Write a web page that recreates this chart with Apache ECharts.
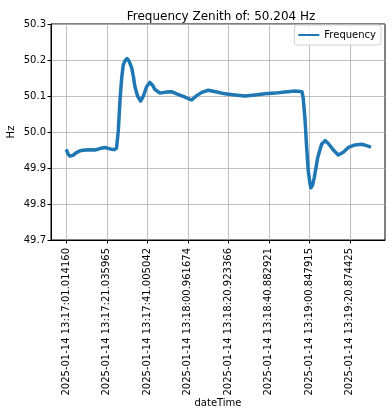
<!DOCTYPE html>
<html>
<head>
<meta charset="utf-8">
<script src="https://cdn.jsdelivr.net/npm/echarts@6/dist/echarts.min.js"></script>
<style>html,body{margin:0;padding:0;background:#fff}#c{width:392px;height:416px}</style>
</head>
<body>
<div id="c"></div>
<script>
// elapsed seconds from first tick
const times = [0,0.8,1.8,3.3,4.8,6.8,9.2,11.7,14.2,16.6,19.1,21.6,23.6,24.8,25.7,26.5,27.4,28.1,29.0,30.0,31.0,32.3,33.2,33.9,35.2,36.7,38.1,39.6,41.3,42.6,43.8,46.3,49.6,52.0,54.5,57.8,60.1,61.9,64.4,66.9,70.1,74.3,78.4,83.3,88.2,93.2,98.1,103.1,108.0,113.0,116.4,117.0,117.9,118.7,119.5,120.3,120.8,121.6,122.5,124.2,126.1,127.8,129.4,131.9,134.3,136.8,139.3,142.6,145.9,148.3,150.5];
// frequency in Hz
const freq = [49.952,49.940,49.933,49.935,49.942,49.948,49.950,49.951,49.950,49.954,49.957,49.953,49.951,49.955,50.004,50.087,50.152,50.185,50.198,50.204,50.197,50.178,50.152,50.126,50.100,50.086,50.100,50.125,50.138,50.130,50.118,50.108,50.111,50.112,50.106,50.099,50.093,50.089,50.101,50.110,50.116,50.111,50.106,50.103,50.100,50.103,50.106,50.108,50.111,50.114,50.112,50.095,50.035,49.958,49.893,49.858,49.845,49.852,49.874,49.930,49.966,49.976,49.968,49.950,49.936,49.944,49.957,49.964,49.966,49.962,49.958];
const tickPositions = [0,20,40,60,80,100,120,140];
const tickLabels = ['2025-01-14 13:17:01.014160','2025-01-14 13:17:21.035965','2025-01-14 13:17:41.005042','2025-01-14 13:18:00.961674','2025-01-14 13:18:20.923366','2025-01-14 13:18:40.882921','2025-01-14 13:19:00.847915','2025-01-14 13:19:20.874425'];

const F = 'DejaVu Sans';
const chart = echarts.init(document.getElementById('c'), null, {renderer:'canvas'});
chart.setOption({
  animation:false,
  backgroundColor:'#fff',
  textStyle:{fontFamily:F},
  title:{text:'Frequency Zenith of: 50.204 Hz', left:216, top:6, textAlign:'center',
    textStyle:{fontFamily:F,fontSize:12,fontWeight:'normal',color:'#000'}},
  legend:{right:11, top:25, padding:[5,5,5,4], itemWidth:21, itemHeight:2, itemGap:5,
    borderColor:'#d0d0d0', borderWidth:1, borderRadius:3, backgroundColor:'rgba(255,255,255,0.8)',
    textStyle:{fontFamily:F,fontSize:10,color:'#000'},
    data:[{name:'Frequency', icon:'rect'}]},
  grid:{left:51,right:7,top:24,bottom:176,outerBoundsMode:'none',containLabel:false,
    show:true,borderColor:'#000',borderWidth:1,backgroundColor:'#fff'},
  xAxis:{type:'value', min:-7.55, max:157.4,
    name:'dateTime', nameLocation:'middle', nameGap:158, nameMoveOverlap:false,
    nameTextStyle:{fontFamily:F,fontSize:10,color:'#000'},
    axisLine:{show:true,onZero:false,lineStyle:{color:'#000',width:1}},
    axisTick:{show:true,length:3.5,customValues:tickPositions,lineStyle:{color:'#000'}},
    axisLabel:{customValues:tickPositions, rotate:90, margin:8, fontFamily:F, fontSize:10, color:'#000',
      formatter:v=>tickLabels[Math.round(v/20)]},
    splitLine:{show:false}},
  yAxis:{type:'value', min:49.7, max:50.3, interval:0.1,
    name:'Hz', nameLocation:'middle', nameGap:35, nameRotate:90, nameMoveOverlap:false,
    nameTextStyle:{fontFamily:F,fontSize:10,color:'#000'},
    axisLine:{show:true,onZero:false,lineStyle:{color:'#000',width:1}},
    axisTick:{show:true,length:3.5,lineStyle:{color:'#000'}},
    axisLabel:{margin:5,fontFamily:F,fontSize:10,color:'#000',formatter:v=>v.toFixed(1)},
    splitLine:{show:true,lineStyle:{color:'#b0b0b0',width:0.8}}},
  series:[{name:'Frequency', type:'line', symbol:'none', smooth:false,
    data: times.map((t,i)=>[t,freq[i]]),
    lineStyle:{color:'#1f77b4', width:3.5, join:'round'}, itemStyle:{color:'#1f77b4'},
    markLine:{silent:true, symbol:['none','none'], label:{show:false}, z:0,
      lineStyle:{color:'#b0b0b0', width:0.8, type:'solid'},
      data: tickPositions.map(p=>({xAxis:p}))}}]
});
</script>
</body>
</html>
